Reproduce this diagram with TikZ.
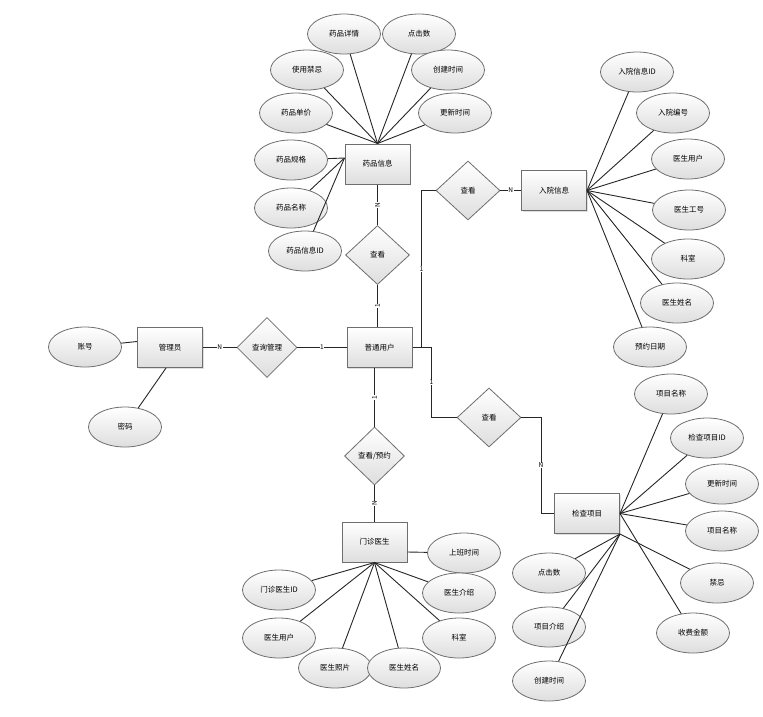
\documentclass[tikz,border=0pt]{standalone}
\usepackage{fontspec}
\setmainfont{Noto Sans CJK SC}
\usetikzlibrary{shapes.geometric, shadows}
\definecolor{my_border}{RGB}{110, 110, 110}
\definecolor{my_shade}{RGB}{222, 222, 222}
\tikzset {
  entity/.style = {draw=my_border, line width=1pt, rectangle, top color=white, bottom color=my_shade, minimum height=40pt, minimum width=65pt, inner sep=0pt, font=\fontsize{7.5}{9}\selectfont, drop shadow={shadow xshift=1pt, shadow yshift=-1pt, opacity=0.25}},
  attr/.style = {draw=my_border, line width=0.8pt, ellipse, top color=white, bottom color=my_shade, minimum height=40pt, minimum width=73pt, inner sep=0pt, font=\fontsize{7.5}{9}\selectfont},
  rel/.style = {draw=my_border, line width=0.8pt, diamond, top color=white, bottom color=my_shade, minimum height=59pt, minimum width=64pt, inner sep=0pt, font=\fontsize{7.5}{9}\selectfont},
  line/.style = {draw=black!85, line width=0.9pt},
  card/.style = {fill=white, inner sep=0.6pt, font=\fontsize{6.5}{7}\selectfont}
}

\begin{document}
\begin{tikzpicture}[x=1pt, y=-1pt]
    \useasboundingbox (0,0) rectangle (763,716);

    % drug info
    \node[entity] (drug) at (377.5,164) {药品信息};
    \node[attr] (d1) at (344,34) {药品详情};
    \node[attr] (d2) at (419,34) {点击数};
    \node[attr] (d3) at (307,70) {使用禁忌};
    \node[attr] (d4) at (448,70) {创建时间};
    \node[attr] (d5) at (296,113) {药品单价};
    \node[attr] (d6) at (455,113) {更新时间};
    \node[attr] (d7) at (291,160) {药品规格};
    \node[attr] (d8) at (291,208) {药品名称};
    \node[attr] (d9) at (305,251) {药品信息ID};

    % hospital info
    \node[entity] (ruyuan) at (554,190.5) {入院信息};
    \node[attr] (r1) at (637,72) {入院信息ID};
    \node[attr] (r2) at (673,113) {入院编号};
    \node[attr] (r3) at (688,159) {医生用户};
    \node[attr] (r4) at (689,210) {医生工号};
    \node[attr] (r5) at (688,259) {科室};
    \node[attr] (r6) at (677,303) {医生姓名};
    \node[attr] (r7) at (650,347) {预约日期};

    % admin and user
    \node[entity] (admin) at (170,347.5) {管理员};
    \node[attr] (a1) at (85,347) {账号};
    \node[attr] (a2) at (125,427) {密码};
    \node[entity] (user) at (379.5,347.5) {普通用户};

    % relations
    \node[rel, minimum width=60pt, minimum height=60pt] (cxgl) at (267,347.5) {查询管理};
    \node[rel] (ck1) at (377.5,255) {查看};
    \node[rel] (ck2) at (468,190.5) {查看};
    \node[rel] (ck3) at (489,417.5) {查看};
    \node[rel, minimum width=60pt, minimum height=58pt] (ckyy) at (374.5,456) {查看/预约};
    \coordinate (p1) at (421.5,347.5);
    \coordinate (p2) at (431.5,347.5);

    % outpatient doctor
    \node[entity] (mzys) at (374.5,542) {门诊医生};
    \node[attr] (m1) at (464,553) {上班时间};
    \node[attr] (m2) at (279,590) {门诊医生ID};
    \node[attr] (m3) at (459,593) {医生介绍};
    \node[attr] (m4) at (279,638) {医生用户};
    \node[attr] (m5) at (459,638) {科室};
    \node[attr] (m6) at (335,668) {医生照片};
    \node[attr] (m7) at (404,668) {医生姓名};

    % check item
    \node[entity] (jcxm) at (587,513.5) {检查项目};
    \node[attr] (j1) at (671,394) {项目名称};
    \node[attr] (j2) at (707,438) {检查项目ID};
    \node[attr] (j3) at (722,484) {更新时间};
    \node[attr] (j4) at (722,531) {项目名称};
    \node[attr] (j5) at (717,583) {禁忌};
    \node[attr] (j6) at (693,633) {收费金额};
    \node[attr] (j7) at (549,573) {点击数};
    \node[attr] (j8) at (549,627) {项目介绍};
    \node[attr] (j9) at (549,681) {创建时间};

    % attribute lines
    \draw[line] (drug.north) -- (d1);
    \draw[line] (drug.north) -- (d2);
    \draw[line] (drug.north) -- (d3);
    \draw[line] (drug.north) -- (d4);
    \draw[line] (drug.north) -- (d5);
    \draw[line] (drug.north) -- (d6);
    \draw[line] ([yshift=6pt]drug.west) -- (d7);
    \draw[line] ([yshift=6pt]drug.west) -- (d8);
    \draw[line] ([yshift=6pt]drug.west) -- (d9);
    \draw[line] (ruyuan.east) -- (r1);
    \draw[line] (ruyuan.east) -- (r2);
    \draw[line] (ruyuan.east) -- (r3);
    \draw[line] (ruyuan.east) -- (r4);
    \draw[line] (ruyuan.east) -- (r5);
    \draw[line] (ruyuan.east) -- (r6);
    \draw[line] (ruyuan.east) -- (r7);
    \draw[line] ([yshift=6pt]admin.west) -- (a1);
    \draw[line] ([xshift=-4pt]admin.south) -- (a2);
    \draw[line] ([yshift=-10pt]mzys.east) -- (m1);
    \draw[line] (mzys.south) -- (m2);
    \draw[line] (mzys.south) -- (m3);
    \draw[line] (mzys.south) -- (m4);
    \draw[line] (mzys.south) -- (m5);
    \draw[line] (mzys.south) -- (m6);
    \draw[line] (mzys.south) -- (m7);
    \draw[line] (jcxm.east) -- (j1);
    \draw[line] (jcxm.east) -- (j2);
    \draw[line] (jcxm.east) -- (j3);
    \draw[line] (jcxm.east) -- (j4);
    \draw[line] (jcxm.south east) -- (j5);
    \draw[line] (jcxm.east) -- (j6);
    \draw[line] (jcxm.south east) -- (j7);
    \draw[line] (jcxm.south east) -- (j8);
    \draw[line] (jcxm.south east) -- (j9);

    % relation lines
    \draw[line] (admin.east) -- node[card] {N} (cxgl.west);
    \draw[line] (cxgl.east) -- node[card] {1} (user.west);
    \draw[line] (drug.south) -- node[card, rotate=90] {N} (ck1.north);
    \draw[line] (ck1.south) -- node[card, rotate=90] {1} (ck1.south |- user.north);
    \draw[line] (user.east) -- (p2);
    \draw[line] (p1) |- node[card, pos=0.25] {1} (ck2.west);
    \draw[line] (ck2.east) -- node[card] {N} (ruyuan.west);
    \draw[line] (p2) |- node[card, pos=0.25] {1} (ck3.west);
    \draw[line] (ck3.east) -| node[card, pos=0.75] {N} ([xshift=-13pt]jcxm.west) -- (jcxm.west);
    \draw[line] (ckyy.north |- user.south) -- node[card, rotate=90] {1} (ckyy.north);
    \draw[line] (ckyy.south) -- node[card, rotate=90] {N} (mzys.north);

\end{tikzpicture}
\end{document}
